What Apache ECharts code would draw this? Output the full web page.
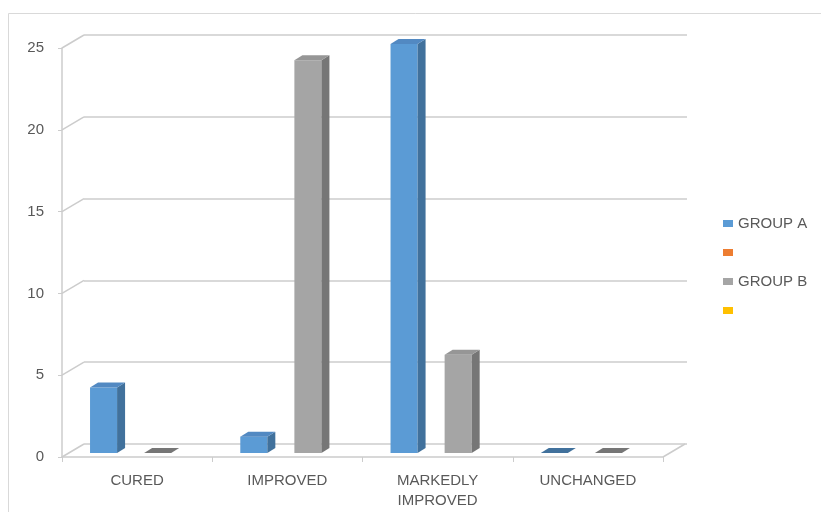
<!DOCTYPE html>
<html><head><meta charset="utf-8">
<script src="https://cdn.jsdelivr.net/npm/echarts@6/dist/echarts.min.js"></script>
<style>html,body{margin:0;padding:0;background:#fff}#c{width:821px;height:512px}</style>
</head><body><div id="c"></div>
<script>
const categories = ['CURED', 'IMPROVED', 'MARKEDLY\nIMPROVED', 'UNCHANGED'];
const groupA = [4, 1, 25, 0];
const seriesOrange = [];
const groupB = [0, 24, 6, 0];
const seriesYellow = [];
const yTicks = [0, 5, 10, 15, 20, 25];
const seriesNames = ['GROUP A', ' ', 'GROUP B', '  '];

const DEPTH_DX = 22, DEPTH_DY = -13;
const BAR_DX = 7, BAR_DY = -4;
const SIDE_DX = 8, SIDE_DY = -5;
const GRID_COLOR = '#cccccc';
const TEXT_COLOR = '#595959';
const FONT = 'Liberation Sans';
const palettes = [
  {front: '#5B9BD5', side: '#41719C', top: '#5289C2'},
  {front: '#ED7D31', side: '#AE5A21', top: '#D46E2B'},
  {front: '#A5A5A5', side: '#767676', top: '#969696'},
  {front: '#FFC000', side: '#BC8C00', top: '#E6AD00'}
];

function barSeries(name, values, slot) {
  const pal = palettes[slot];
  return {
    type: 'custom', name: name, xAxisIndex: 0, yAxisIndex: 0, z: 5,
    itemStyle: {color: pal.front},
    data: values.map((v, i) => [i, v]),
    encode: {x: 0, y: 1},
    renderItem: function (params, api) {
      const ci = api.value(0), v = api.value(1);
      const base = api.coord([ci, 0]);
      const topP = api.coord([ci, v]);
      const catW = api.size([1, 0])[0];
      const w = catW * 0.18;
      const cx = base[0] + (slot - 1.5) * w + BAR_DX;
      const x0 = cx - w / 2, x1 = cx + w / 2;
      const yb = base[1] + BAR_DY, yt = topP[1] + BAR_DY;
      const children = [];
      const tall = yb - yt > 0.5;
      if (tall) {
        children.push({type: 'rect', shape: {x: x0, y: yt, width: w, height: yb - yt}, style: {fill: pal.front}});
        children.push({type: 'polygon', shape: {points: [[x1, yt], [x1 + SIDE_DX, yt + SIDE_DY], [x1 + SIDE_DX, yb + SIDE_DY], [x1, yb]]}, style: {fill: pal.side}});
      }
      children.push({type: 'polygon', shape: {points: [[x0, yt], [x0 + SIDE_DX, yt + SIDE_DY], [x1 + SIDE_DX, yt + SIDE_DY], [x1, yt]]}, style: {fill: tall ? pal.top : pal.side}});
      return {type: 'group', children: children};
    }
  };
}

const wallSeries = {
  type: 'custom', xAxisIndex: 0, yAxisIndex: 0, z: 1, silent: true,
  data: yTicks.map(v => [0, v]),
  encode: {x: 0, y: 1},
  renderItem: function (params, api) {
    const p = api.coord([0, api.value(1)]);
    const cs = params.coordSys;
    const children = [{type: 'line', shape: {x1: cs.x, y1: p[1], x2: cs.x + DEPTH_DX, y2: p[1] + DEPTH_DY}, style: {stroke: GRID_COLOR, lineWidth: 1.5}}];
    if (api.value(1) === 0) {
      const xr = cs.x + cs.width;
      children.push({type: 'line', shape: {x1: xr, y1: p[1], x2: xr + DEPTH_DX, y2: p[1] + DEPTH_DY}, style: {stroke: GRID_COLOR, lineWidth: 1.5}});
    }
    return {type: 'group', children: children};
  }
};

const chart = echarts.init(document.getElementById('c'), null, {renderer: 'canvas'});
chart.setOption({
  animation: false,
  backgroundColor: '#fff',
  graphic: [{type: 'rect', shape: {x: 8.5, y: 13.5, width: 900, height: 600}, style: {fill: 'none', stroke: '#d9d9d9', lineWidth: 1}, silent: true, z: -1}],
  legend: {
    orient: 'vertical', left: 718, top: 211,
    icon: 'rect', itemWidth: 10, itemHeight: 7, itemGap: 14,
    textStyle: {fontFamily: FONT, fontSize: 15, color: TEXT_COLOR, lineHeight: 15},
    data: seriesNames.map((n, i) => ({name: n, itemStyle: {color: palettes[i].front}}))
  },
  grid: [
    {left: 62, top: 48, width: 601, height: 409},
    {left: 62 + DEPTH_DX, top: 48 + DEPTH_DY, width: 603, height: 409}
  ],
  xAxis: [
    {type: 'category', gridIndex: 0, data: categories,
     axisLine: {show: true, lineStyle: {color: GRID_COLOR, width: 1.5}},
     axisTick: {show: true, length: 5, lineStyle: {color: GRID_COLOR}},
     axisLabel: {margin: 14, fontFamily: FONT, fontSize: 15, color: TEXT_COLOR, lineHeight: 20},
     splitLine: {show: false}},
    {type: 'category', gridIndex: 1, data: categories,
     axisLine: {show: false}, axisTick: {show: false}, axisLabel: {show: false}, splitLine: {show: false}}
  ],
  yAxis: [
    {type: 'value', gridIndex: 0, min: 0, max: 25, interval: 5,
     axisLine: {show: true, lineStyle: {color: GRID_COLOR, width: 1.5}},
     axisTick: {show: true, length: 4, lineStyle: {color: GRID_COLOR}},
     axisLabel: {margin: 18, fontFamily: FONT, fontSize: 15, color: TEXT_COLOR, padding: [5, 0, 0, 0]},
     splitLine: {show: false}},
    {type: 'value', gridIndex: 1, min: 0, max: 25, interval: 5,
     axisLine: {show: false}, axisTick: {show: false}, axisLabel: {show: false},
     splitLine: {show: true, lineStyle: {color: GRID_COLOR, width: 1.5}}}
  ],
  series: [
    wallSeries,
    barSeries(seriesNames[0], groupA, 0),
    barSeries(seriesNames[1], seriesOrange, 1),
    barSeries(seriesNames[2], groupB, 2),
    barSeries(seriesNames[3], seriesYellow, 3)
  ]
});
</script></body></html>
